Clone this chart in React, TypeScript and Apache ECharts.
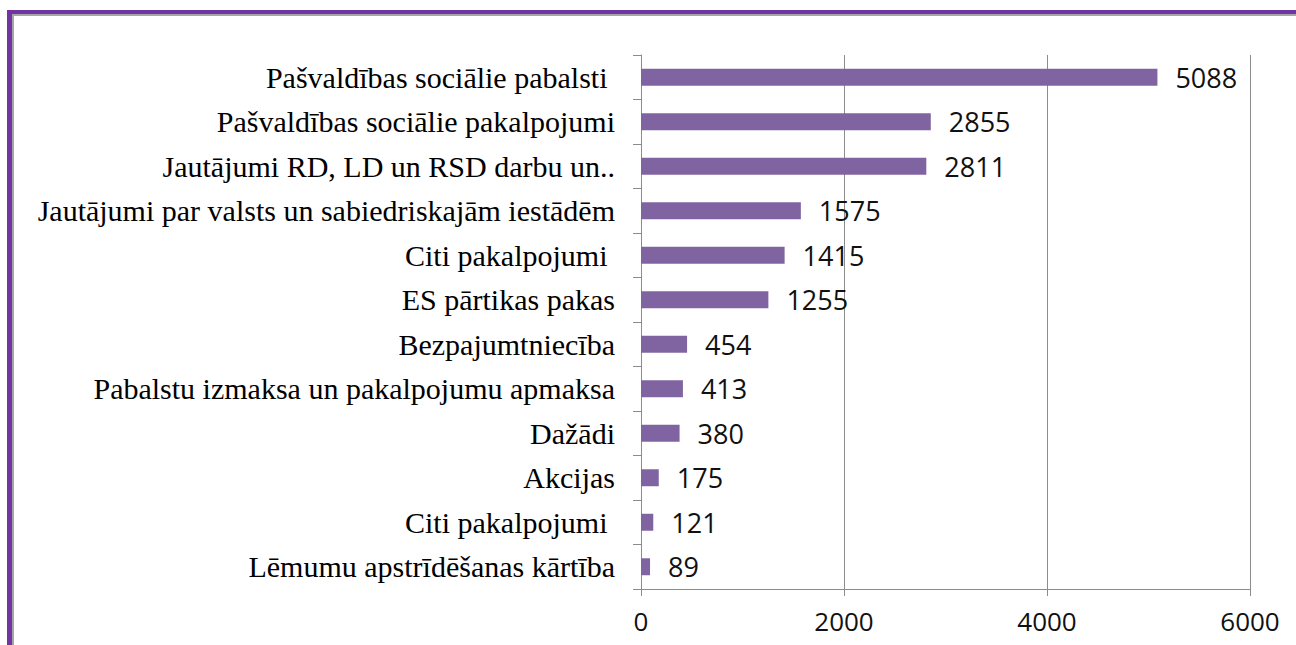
import React, { useEffect, useRef } from "react";
import * as echarts from "echarts";

const categories = [
  "Pašvaldības sociālie pabalsti ",
  "Pašvaldības sociālie pakalpojumi",
  "Jautājumi RD, LD un RSD darbu un..",
  "Jautājumi par valsts un sabiedriskajām iestādēm",
  "Citi pakalpojumi ",
  "ES pārtikas pakas",
  "Bezpajumtniecība",
  "Pabalstu izmaksa un pakalpojumu apmaksa",
  "Dažādi",
  "Akcijas",
  "Citi pakalpojumi ",
  "Lēmumu apstrīdēšanas kārtība",
];
const values = [5088, 2855, 2811, 1575, 1415, 1255, 454, 413, 380, 175, 121, 89];
const axisMin = 0;
const axisMax = 6000;
const axisStep = 2000;

export default function App() {
  const ref = useRef<HTMLDivElement>(null);
  useEffect(() => {
    if (!ref.current) return;
    const chart = echarts.init(ref.current, undefined, { renderer: "svg" });
    const grey = "#8c8c8c";
    chart.setOption({
      animation: false,
      backgroundColor: "#ffffff",
      grid: { left: 641, right: 46, top: 55, bottom: 56, containLabel: false },
      xAxis: {
        type: "value",
        min: axisMin,
        max: axisMax,
        interval: axisStep,
        axisLine: { show: true, lineStyle: { color: grey, width: 1 } },
        axisTick: { show: true, length: 7, lineStyle: { color: grey } },
        splitLine: { show: true, lineStyle: { color: grey, width: 1 } },
        axisLabel: {
          margin: 19,
          color: "#111",
          fontFamily: "Open Sans",
          fontSize: 26,
          formatter: (v: number) => String(v),
        },
      },
      yAxis: {
        type: "category",
        inverse: true,
        data: categories.map((c, i) => ({ value: c + "\u0000" + i })),
        axisLine: { show: true, lineStyle: { color: grey, width: 1 } },
        axisTick: { show: true, length: 8, lineStyle: { color: grey } },
        splitLine: { show: false },
        axisLabel: {
          margin: 26,
          color: "#000",
          fontFamily: "Liberation Serif",
          fontSize: 30,
          formatter: (v: string) => v.split("\u0000")[0],
        },
      },
      series: [
        {
          type: "bar",
          data: values,
          barWidth: 17,
          itemStyle: { color: "#8064A2" },
          label: {
            show: true,
            position: "right",
            distance: 18,
            color: "#111",
            fontFamily: "Open Sans",
            fontSize: 27,
          },
        },
      ],
      graphic: [
        { type: "rect", shape: { x: 7, y: 10, width: 5, height: 700 }, style: { fill: "#7233a3" }, silent: true },
        { type: "rect", shape: { x: 7, y: 10, width: 1400, height: 4 }, style: { fill: "#7233a3" }, silent: true },
        { type: "rect", shape: { x: 12, y: 14, width: 2, height: 700 }, style: { fill: "#a6a6a6" }, silent: true },
        { type: "rect", shape: { x: 12, y: 14, width: 1400, height: 2 }, style: { fill: "#a6a6a6" }, silent: true },
      ],
    });
    return () => chart.dispose();
  }, []);
  return (
    <div
      ref={ref}
      style={{ position: "fixed", left: 0, top: 0, width: 1296, height: 645 }}
    />
  );
}
